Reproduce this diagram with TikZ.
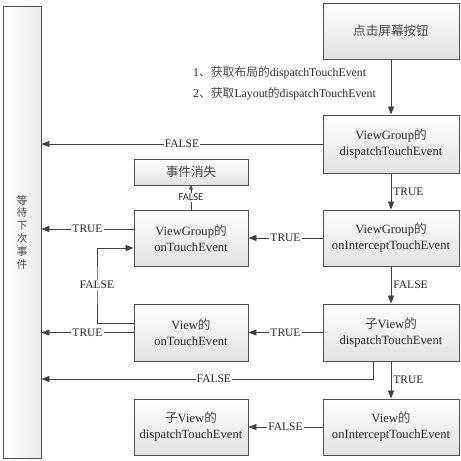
\documentclass[tikz,border=0pt]{standalone}
\usepackage{fontspec}
\setmainfont{Liberation Serif}
\newfontfamily\cjk{Noto Sans CJK SC}
\newfontfamily\labsans{Carlito}
\usetikzlibrary{arrows.meta}
\definecolor{linec}{RGB}{64,64,64}
\definecolor{boxb}{RGB}{80,80,80}
\definecolor{boxbot}{RGB}{226,226,226}
\definecolor{txt}{RGB}{40,40,40}
\definecolor{zhc}{RGB}{70,70,70}
\newcommand\zh[1]{{\cjk\color{zhc}#1}}
\tikzset{
  box/.style={draw=boxb, line width=0.9pt, top color=white, bottom color=boxbot,
    minimum width=136pt, minimum height=57pt, inner sep=0pt, align=center,
    text=txt, font=\fontsize{12.6}{16}\selectfont},
  lbox/.style={box, minimum width=114pt},
  arr/.style={draw=linec, line width=0.8pt, -{Triangle[length=8pt,width=6pt]}},
  lab/.style={fill=white, inner sep=1pt, text=txt, font=\fontsize{11.5}{12}\selectfont},
  rlab/.style={right, inner sep=2pt, text=txt, font=\fontsize{11.5}{12}\selectfont},
}
\begin{document}
\begin{tikzpicture}[x=1pt, y=-1pt]
\useasboundingbox[fill=white] (0,0) rectangle (461,461);
% left tall box
\node[draw=boxb, line width=0.9pt, left color=white, right color=boxbot!70,
  minimum width=38pt, minimum height=452pt, inner sep=0pt, text=txt,
  font=\fontsize{10.5}{12.8}\selectfont, align=center] (wait) at (22,232)
  {\zh{等}\\\zh{待}\\\zh{下}\\\zh{次}\\\zh{事}\\\zh{件}};
% right column
\node[box, minimum height=56pt] (click) at (391,31) {\zh{点击屏幕按钮}};
\node[box, minimum height=58pt] (vgd) at (391,144) {ViewGroup\zh{的}\\dispatchTouchEvent};
\node[box, minimum height=56pt] (vgi) at (391,238) {ViewGroup\zh{的}\\onInterceptTouchEvent};
\node[box, minimum height=57pt] (cvd) at (391,332.5) {\zh{子}View\zh{的}\\dispatchTouchEvent};
\node[box, minimum height=56pt] (vi) at (391,427) {View\zh{的}\\onInterceptTouchEvent};
% left column
\node[lbox, minimum height=26pt] (lost) at (191,172) {\zh{事件消失}};
\node[lbox, minimum height=56pt] (vgt) at (191,238) {ViewGroup\zh{的}\\onTouchEvent};
\node[lbox, minimum height=57pt] (vt) at (191,332.5) {View\zh{的}\\onTouchEvent};
\node[lbox, minimum height=56pt] (cvd2) at (191,427) {\zh{子}View\zh{的}\\dispatchTouchEvent};
% top labels
\node[anchor=west, inner sep=0pt, text=txt, font=\fontsize{11.8}{12}\selectfont] (l1) at (193,73) {1\zh{、获取布局的}dispatchTouchEvent};
\node[anchor=west, inner sep=0pt, text=txt, font=\fontsize{11.8}{12}\selectfont] (l2) at (193,94) {2\zh{、获取}Layout\zh{的}dispatchTouchEvent};
% connectors
\draw[arr] (click.south) -- (vgd.north);
\draw[arr] (vgd.west) -- (vgd.west -| wait.east) node[lab, midway] {FALSE};
\draw[arr] (vgd.south) -- (vgi.north) node[rlab, midway] {TRUE};
\draw[arr] (vgi.south) -- (vgi.south |- cvd.north) node[rlab, midway] {FALSE};
\draw[arr] (cvd.south) -- (vi.north) node[rlab, midway] {TRUE};
\draw[arr] (vgi.west) -- (vgt.east) node[lab, midway] {TRUE};
\draw[arr] (cvd.west) -- (vt.east) node[lab, midway] {TRUE};
\draw[arr] (vi.west) -- (cvd2.east) node[lab, midway] {FALSE};
\draw[arr] ([yshift=9pt]vgt.west) -- ([yshift=9pt]vgt.west -| wait.east) node[lab, midway] {TRUE};
\draw[arr] (vt.west) -- (vt.west -| wait.east) node[lab, midway] {TRUE};
\coordinate (lp) at (97,0);
\draw[arr] ([yshift=9.5pt]vt.west) -| (lp |- 285,285) node[lab, pos=1] {FALSE} |- ([yshift=-10pt]vgt.west);
\coordinate (cvdb) at ([xshift=-18pt]cvd.south);
\draw[arr] (cvdb) |- (cvdb |- 0,379) -- (wait.east |- 0,379) node[lab, pos=0.48] {FALSE};
\draw[draw=linec, line width=0.5pt, -{Triangle[length=4pt,width=4pt]}] (vgt.north) -- (lost.south)
  node[midway, fill=white, inner sep=1pt, text=txt, font=\labsans\fontsize{10.5}{12}\selectfont] {FALSE};
\end{tikzpicture}
\end{document}
